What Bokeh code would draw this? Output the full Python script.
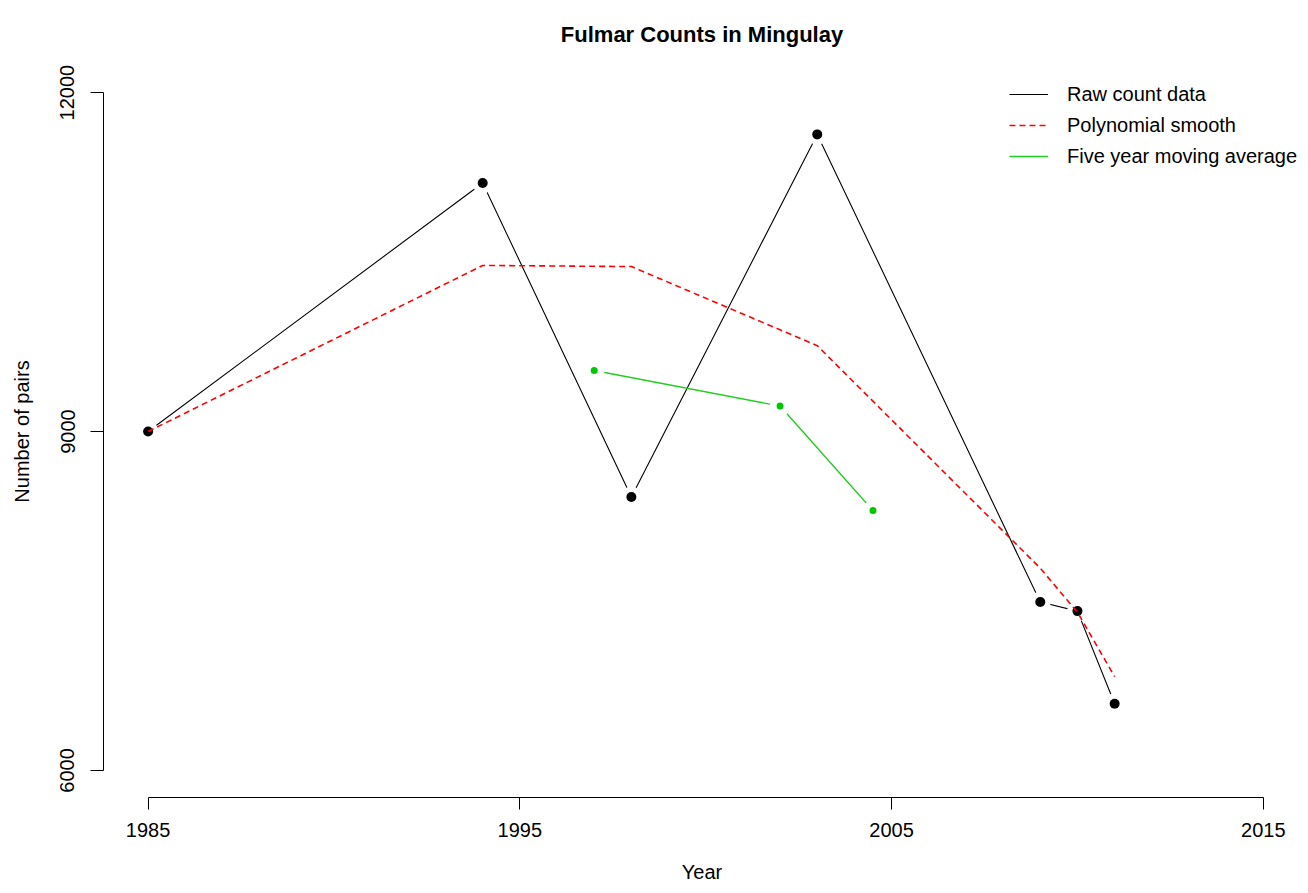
from bokeh.plotting import figure
from bokeh.models import Range1d, FixedTicker, Legend, LegendItem
from bokeh.embed import file_html
from bokeh.resources import INLINE

# Data
years = [1985, 1994, 1998, 2003, 2009, 2010, 2011]
raw_counts = [9000, 11200, 8420, 11630, 7490, 7410, 6590]
poly_smooth = [9000, 10470, 10460, 9760, 7790, 7400, 6830]
ma_years = [1997, 2002, 2004.5]
moving_avg = [9540, 9225, 8300]

x_ticks = [1985, 1995, 2005, 2015]
y_ticks = [6000, 9000, 12000]

FONT = "Liberation Sans"

p = figure(width=1300, height=885, output_backend="svg", toolbar_location=None,
           x_range=Range1d(1983.8, 2016.0), y_range=Range1d(5760, 12240),
           min_border_left=103, min_border_right=0, min_border_top=65, min_border_bottom=87)
p.outline_line_color = None
p.grid.visible = False
p.background_fill_color = "white"
p.border_fill_color = "white"

# Title
p.title.text = "Fulmar Counts in Mingulay"
p.title.text_font = FONT
p.title.text_font_size = "22px"
p.title.text_font_style = "bold"
p.title.text_color = "black"
p.title.align = "center"
p.title.standoff = 37

# Axes (R style: detached lines spanning ticks only)
xa = p.xaxis[0]
xa.ticker = FixedTicker(ticks=x_ticks)
xa.bounds = (1985, 2015)
xa.axis_label = "Year"
ya = p.yaxis[0]
ya.ticker = FixedTicker(ticks=y_ticks)
ya.bounds = (6000, 12000)
ya.axis_label = "Number of pairs"
ya.major_label_orientation = "vertical"
for ax, tick_out in ((xa, 12), (ya, 13)):
    ax.major_tick_out = tick_out
    ax.major_tick_in = 0
    ax.minor_tick_out = 0
    ax.minor_tick_in = 0
    ax.axis_line_color = "black"
    ax.major_tick_line_color = "black"
    ax.major_label_text_font = FONT
    ax.major_label_text_font_size = "20px"
    ax.major_label_text_color = "black"
    ax.axis_label_text_font = FONT
    ax.axis_label_text_font_size = "20px"
    ax.axis_label_text_font_style = "normal"
    ax.axis_label_text_color = "black"
xa.major_label_standoff = 13
xa.axis_label_standoff = 21
ya.major_label_standoff = 16
ya.axis_label_standoff = 25

# Raw count data: line with gaps around points (R type="b")
r_raw = p.line(years, raw_counts, line_color="black", line_width=1.1)
p.scatter(years, raw_counts, size=21, fill_color="white", line_color=None)
p.scatter(years, raw_counts, size=10, fill_color="black", line_color=None)

# Polynomial smooth
r_poly = p.line(years, poly_smooth, line_color="#ff0000", line_width=1.6, line_dash="6 4")

# Five-year moving average
r_ma = p.line(ma_years, moving_avg, line_color="#22cc22", line_width=1.4)
p.scatter(ma_years, moving_avg, size=21, fill_color="white", line_color=None)
p.scatter(ma_years, moving_avg, size=7, fill_color="#00c800", line_color=None)

legend = Legend(items=[
    LegendItem(label="Raw count data", renderers=[r_raw]),
    LegendItem(label="Polynomial smooth", renderers=[r_poly]),
    LegendItem(label="Five year moving average", renderers=[r_ma]),
], location=(906, 626))
legend.border_line_color = None
legend.background_fill_alpha = 0
legend.padding = 0
legend.margin = 0
legend.spacing = 1
legend.glyph_width = 39
legend.glyph_height = 30
legend.label_height = 30
legend.label_standoff = 19
legend.label_text_font = FONT
legend.label_text_font_size = "20px"
legend.label_text_color = "black"
p.add_layout(legend)

open("out.html", "w").write(file_html(p, INLINE))
